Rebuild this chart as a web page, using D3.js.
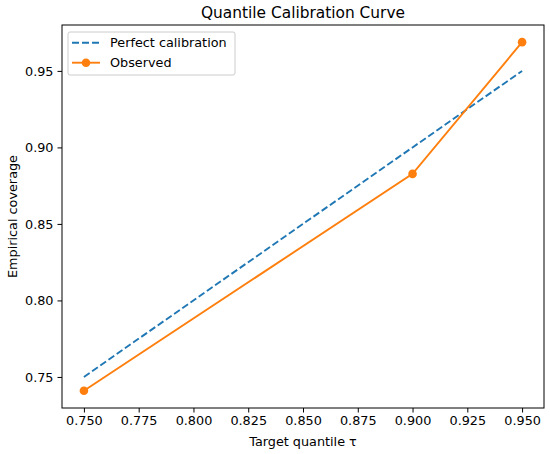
<!DOCTYPE html>
<html>
<head>
<meta charset="utf-8">
<script src="https://cdn.jsdelivr.net/npm/d3@7"></script>
<style>
  body { margin: 0; background: #fff; }
  svg text { font-family: "DejaVu Sans", sans-serif; fill: #000; }
</style>
</head>
<body>
<div id="chart"></div>
<script>
var targetQuantiles = [0.75, 0.90, 0.95];
var perfectCoverage = [0.75, 0.90, 0.95];
var observedCoverage = [0.741, 0.8827, 0.9688];
var xTicks = [0.750, 0.775, 0.800, 0.825, 0.850, 0.875, 0.900, 0.925, 0.950];
var yTicks = [0.75, 0.80, 0.85, 0.90, 0.95];

var width = 550, height = 454;
var margin = {left: 62, right: 6, top: 25, bottom: 46};
var fs = 12.8;

var svg = d3.select("#chart").append("svg")
  .attr("width", width)
  .attr("height", height);

var x = d3.scaleLinear()
  .domain([0.74, 0.96])
  .range([margin.left, width - margin.right]);

var y = d3.scaleLinear()
  .domain([0.7297, 0.9800])
  .range([height - margin.bottom, margin.top]);

// axes
svg.append("g")
  .attr("transform", "translate(0," + (height - margin.bottom) + ")")
  .call(d3.axisBottom(x).tickValues(xTicks).tickFormat(d3.format(".3f")).tickSize(4.5).tickPadding(3.5).tickSizeOuter(0));

svg.append("g")
  .attr("transform", "translate(" + margin.left + ",0)")
  .call(d3.axisLeft(y).tickValues(yTicks).tickFormat(d3.format(".2f")).tickSize(4.5).tickPadding(4).tickSizeOuter(0));

svg.selectAll(".tick text").attr("font-size", fs).style("font-family", "DejaVu Sans, sans-serif");
svg.selectAll(".tick line").attr("stroke", "#000").attr("stroke-width", 1);
svg.selectAll(".domain").remove();

// frame
svg.append("rect")
  .attr("x", margin.left)
  .attr("y", margin.top)
  .attr("width", width - margin.left - margin.right)
  .attr("height", height - margin.top - margin.bottom)
  .attr("fill", "none")
  .attr("stroke", "#000")
  .attr("stroke-width", 1);

var line = d3.line()
  .x(function(d){return x(d[0]);})
  .y(function(d){return y(d[1]);});

var perfectData = targetQuantiles.map(function(t, i){return [t, perfectCoverage[i]];});
var observedData = targetQuantiles.map(function(t, i){return [t, observedCoverage[i]];});

svg.append("path")
  .datum(perfectData)
  .attr("d", line)
  .attr("fill", "none")
  .attr("stroke", "#1f77b4")
  .attr("stroke-width", 1.9)
  .attr("stroke-dasharray", "7,3");

svg.append("path")
  .datum(observedData)
  .attr("d", line)
  .attr("fill", "none")
  .attr("stroke", "#ff7f0e")
  .attr("stroke-width", 1.9);

svg.selectAll("circle.obs")
  .data(observedData).enter()
  .append("circle")
    .attr("class", "obs")
    .attr("cx", function(d){return x(d[0]);})
    .attr("cy", function(d){return y(d[1]);})
    .attr("r", 4.3)
    .attr("fill", "#ff7f0e");

// title and labels
svg.append("text")
  .attr("x", (margin.left + width - margin.right) / 2)
  .attr("y", 18)
  .attr("text-anchor", "middle")
  .attr("font-size", 15.4)
  .text("Quantile Calibration Curve");

svg.append("text")
  .attr("x", (margin.left + width - margin.right) / 2)
  .attr("y", 446)
  .attr("text-anchor", "middle")
  .attr("font-size", fs)
  .text("Target quantile τ");

svg.append("text")
  .attr("transform", "translate(17," + ((margin.top + height - margin.bottom) / 2) + ") rotate(-90)")
  .attr("text-anchor", "middle")
  .attr("font-size", fs)
  .text("Empirical coverage");

// legend
var legend = svg.append("g").attr("transform", "translate(68,32)");
legend.append("rect")
  .attr("width", 167)
  .attr("height", 43)
  .attr("rx", 2)
  .attr("fill", "#fff")
  .attr("fill-opacity", 0.8)
  .attr("stroke", "#ccc")
  .attr("stroke-width", 1);

var legendItems = [
  {label: "Perfect calibration", color: "#1f77b4", dash: "7,3", marker: false},
  {label: "Observed", color: "#ff7f0e", dash: null, marker: true}
];

legendItems.forEach(function(d, i){
  var ly = 10.7 + i * 20;
  legend.append("line")
    .attr("x1", 4).attr("x2", 32)
    .attr("y1", ly).attr("y2", ly)
    .attr("stroke", d.color)
    .attr("stroke-width", 1.9)
    .attr("stroke-dasharray", d.dash);
  if(d.marker){
    legend.append("circle")
      .attr("cx", 18).attr("cy", ly).attr("r", 4.3)
      .attr("fill", d.color);
  }
  legend.append("text")
    .attr("x", 42)
    .attr("y", ly)
    .attr("dy", "0.35em")
    .attr("font-size", fs)
    .text(d.label);
});
</script>
</body>
</html>
